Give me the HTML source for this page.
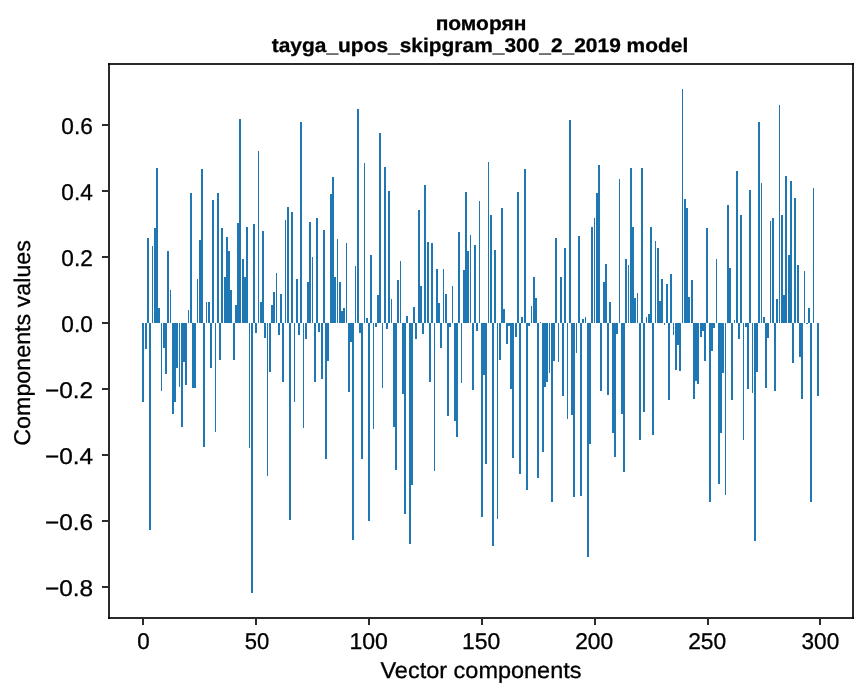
<!DOCTYPE html>
<html><head><meta charset="utf-8"><style>
html,body{margin:0;padding:0;background:#fff;}
svg{display:block;font-family:"Liberation Sans",sans-serif;}
text{text-rendering:geometricPrecision;}
svg{will-change:transform;}
</style></head><body>
<svg width="867" height="696" viewBox="0 0 867 696">
<rect x="0" y="0" width="867" height="696" fill="#fff"/>
<g fill="#1f77b4" shape-rendering="crispEdges"><rect x="142" y="323" width="2" height="79"/><rect x="145" y="323" width="2" height="26"/><rect x="147" y="238" width="2" height="85"/><rect x="149" y="323" width="2" height="207"/><rect x="152" y="246" width="1" height="77"/><rect x="154" y="228" width="2" height="95"/><rect x="156" y="168" width="2" height="155"/><rect x="158" y="308" width="2" height="15"/><rect x="161" y="323" width="1" height="68"/><rect x="163" y="323" width="2" height="25"/><rect x="165" y="323" width="2" height="51"/><rect x="167" y="251" width="2" height="72"/><rect x="170" y="290" width="1" height="33"/><rect x="172" y="323" width="2" height="91"/><rect x="174" y="323" width="2" height="79"/><rect x="176" y="323" width="2" height="45"/><rect x="179" y="323" width="1" height="64"/><rect x="181" y="323" width="2" height="104"/><rect x="183" y="323" width="2" height="39"/><rect x="185" y="323" width="2" height="62"/><rect x="188" y="310" width="1" height="13"/><rect x="190" y="193" width="2" height="130"/><rect x="192" y="323" width="2" height="65"/><rect x="194" y="323" width="2" height="65"/><rect x="197" y="279" width="1" height="44"/><rect x="199" y="240" width="2" height="83"/><rect x="201" y="169" width="2" height="154"/><rect x="203" y="323" width="2" height="124"/><rect x="206" y="302" width="1" height="21"/><rect x="208" y="302" width="2" height="21"/><rect x="210" y="323" width="2" height="45"/><rect x="212" y="200" width="2" height="123"/><rect x="215" y="323" width="1" height="109"/><rect x="217" y="193" width="2" height="130"/><rect x="219" y="323" width="2" height="37"/><rect x="221" y="228" width="2" height="95"/><rect x="224" y="277" width="2" height="46"/><rect x="226" y="237" width="2" height="86"/><rect x="228" y="251" width="2" height="72"/><rect x="230" y="290" width="2" height="33"/><rect x="233" y="323" width="2" height="37"/><rect x="235" y="305" width="2" height="18"/><rect x="237" y="223" width="2" height="100"/><rect x="239" y="119" width="2" height="204"/><rect x="242" y="259" width="2" height="64"/><rect x="244" y="277" width="2" height="46"/><rect x="246" y="227" width="2" height="96"/><rect x="249" y="323" width="1" height="125"/><rect x="251" y="323" width="2" height="270"/><rect x="253" y="224" width="2" height="99"/><rect x="255" y="323" width="2" height="10"/><rect x="258" y="151" width="1" height="172"/><rect x="260" y="302" width="2" height="21"/><rect x="262" y="231" width="2" height="92"/><rect x="264" y="323" width="2" height="15"/><rect x="267" y="323" width="1" height="153"/><rect x="269" y="323" width="2" height="49"/><rect x="271" y="305" width="2" height="18"/><rect x="273" y="292" width="2" height="31"/><rect x="276" y="273" width="1" height="50"/><rect x="278" y="323" width="2" height="12"/><rect x="280" y="294" width="2" height="29"/><rect x="282" y="323" width="2" height="59"/><rect x="285" y="220" width="1" height="103"/><rect x="287" y="207" width="2" height="116"/><rect x="289" y="323" width="2" height="197"/><rect x="291" y="212" width="2" height="111"/><rect x="294" y="323" width="1" height="79"/><rect x="296" y="279" width="2" height="44"/><rect x="298" y="323" width="2" height="12"/><rect x="300" y="122" width="2" height="201"/><rect x="303" y="323" width="1" height="105"/><rect x="305" y="323" width="2" height="16"/><rect x="307" y="282" width="2" height="41"/><rect x="309" y="222" width="2" height="101"/><rect x="312" y="257" width="1" height="66"/><rect x="314" y="323" width="2" height="59"/><rect x="316" y="218" width="2" height="105"/><rect x="318" y="323" width="2" height="9"/><rect x="321" y="323" width="2" height="56"/><rect x="323" y="230" width="2" height="93"/><rect x="325" y="323" width="2" height="136"/><rect x="327" y="323" width="2" height="38"/><rect x="330" y="194" width="2" height="129"/><rect x="332" y="177" width="2" height="146"/><rect x="334" y="277" width="2" height="46"/><rect x="337" y="239" width="1" height="84"/><rect x="339" y="282" width="2" height="41"/><rect x="341" y="311" width="2" height="12"/><rect x="343" y="308" width="2" height="15"/><rect x="346" y="243" width="1" height="80"/><rect x="348" y="323" width="2" height="69"/><rect x="350" y="323" width="2" height="19"/><rect x="352" y="323" width="2" height="217"/><rect x="355" y="266" width="1" height="57"/><rect x="357" y="109" width="2" height="214"/><rect x="359" y="323" width="2" height="10"/><rect x="361" y="323" width="2" height="136"/><rect x="364" y="163" width="1" height="160"/><rect x="366" y="318" width="2" height="5"/><rect x="368" y="323" width="2" height="198"/><rect x="370" y="255" width="2" height="68"/><rect x="373" y="323" width="1" height="106"/><rect x="375" y="323" width="2" height="4"/><rect x="377" y="295" width="2" height="28"/><rect x="379" y="133" width="2" height="190"/><rect x="382" y="323" width="1" height="65"/><rect x="384" y="167" width="2" height="156"/><rect x="386" y="323" width="2" height="6"/><rect x="388" y="191" width="2" height="132"/><rect x="391" y="299" width="1" height="24"/><rect x="393" y="323" width="2" height="104"/><rect x="395" y="323" width="2" height="147"/><rect x="397" y="280" width="2" height="43"/><rect x="400" y="261" width="1" height="62"/><rect x="402" y="323" width="2" height="71"/><rect x="404" y="323" width="2" height="191"/><rect x="406" y="316" width="2" height="7"/><rect x="409" y="323" width="2" height="221"/><rect x="411" y="323" width="2" height="162"/><rect x="413" y="307" width="2" height="16"/><rect x="415" y="323" width="2" height="16"/><rect x="418" y="210" width="2" height="113"/><rect x="420" y="286" width="2" height="37"/><rect x="422" y="323" width="2" height="11"/><rect x="424" y="185" width="2" height="138"/><rect x="427" y="242" width="2" height="81"/><rect x="429" y="323" width="2" height="59"/><rect x="431" y="243" width="2" height="80"/><rect x="434" y="323" width="1" height="148"/><rect x="436" y="269" width="2" height="54"/><rect x="438" y="303" width="2" height="20"/><rect x="440" y="323" width="2" height="25"/><rect x="443" y="269" width="1" height="54"/><rect x="445" y="294" width="2" height="29"/><rect x="447" y="323" width="2" height="93"/><rect x="449" y="323" width="2" height="4"/><rect x="452" y="286" width="1" height="37"/><rect x="454" y="323" width="2" height="98"/><rect x="456" y="323" width="2" height="114"/><rect x="458" y="232" width="2" height="91"/><rect x="461" y="323" width="1" height="60"/><rect x="463" y="270" width="2" height="53"/><rect x="465" y="192" width="2" height="131"/><rect x="467" y="251" width="2" height="72"/><rect x="470" y="235" width="1" height="88"/><rect x="472" y="323" width="2" height="67"/><rect x="474" y="245" width="2" height="78"/><rect x="476" y="323" width="2" height="8"/><rect x="479" y="201" width="1" height="122"/><rect x="481" y="323" width="2" height="194"/><rect x="483" y="323" width="2" height="52"/><rect x="485" y="323" width="2" height="141"/><rect x="488" y="162" width="1" height="161"/><rect x="490" y="215" width="2" height="108"/><rect x="492" y="323" width="2" height="223"/><rect x="494" y="250" width="2" height="73"/><rect x="497" y="323" width="1" height="196"/><rect x="499" y="323" width="2" height="37"/><rect x="501" y="208" width="2" height="115"/><rect x="503" y="309" width="2" height="14"/><rect x="506" y="323" width="2" height="21"/><rect x="508" y="323" width="2" height="3"/><rect x="510" y="323" width="2" height="66"/><rect x="512" y="323" width="2" height="135"/><rect x="515" y="323" width="2" height="14"/><rect x="517" y="192" width="2" height="131"/><rect x="519" y="323" width="2" height="151"/><rect x="521" y="317" width="2" height="6"/><rect x="524" y="169" width="2" height="154"/><rect x="526" y="323" width="2" height="167"/><rect x="528" y="323" width="2" height="3"/><rect x="531" y="306" width="1" height="17"/><rect x="533" y="277" width="2" height="46"/><rect x="535" y="298" width="2" height="25"/><rect x="537" y="323" width="2" height="155"/><rect x="540" y="322" width="1" height="1"/><rect x="542" y="323" width="2" height="129"/><rect x="544" y="323" width="2" height="64"/><rect x="546" y="323" width="2" height="59"/><rect x="549" y="323" width="1" height="50"/><rect x="551" y="323" width="2" height="179"/><rect x="553" y="323" width="2" height="38"/><rect x="555" y="238" width="2" height="85"/><rect x="558" y="323" width="1" height="39"/><rect x="560" y="277" width="2" height="46"/><rect x="562" y="323" width="2" height="73"/><rect x="564" y="248" width="2" height="75"/><rect x="567" y="323" width="1" height="96"/><rect x="569" y="120" width="2" height="203"/><rect x="571" y="323" width="2" height="92"/><rect x="573" y="323" width="2" height="174"/><rect x="576" y="323" width="1" height="30"/><rect x="578" y="236" width="2" height="87"/><rect x="580" y="323" width="2" height="173"/><rect x="582" y="319" width="2" height="4"/><rect x="585" y="317" width="1" height="6"/><rect x="587" y="323" width="2" height="234"/><rect x="589" y="323" width="2" height="121"/><rect x="591" y="227" width="2" height="96"/><rect x="594" y="218" width="1" height="105"/><rect x="596" y="193" width="2" height="130"/><rect x="598" y="165" width="2" height="158"/><rect x="600" y="323" width="2" height="68"/><rect x="603" y="282" width="2" height="41"/><rect x="605" y="264" width="2" height="59"/><rect x="607" y="323" width="2" height="72"/><rect x="609" y="302" width="2" height="21"/><rect x="612" y="323" width="2" height="110"/><rect x="614" y="323" width="2" height="134"/><rect x="616" y="323" width="2" height="11"/><rect x="619" y="179" width="1" height="144"/><rect x="621" y="323" width="2" height="91"/><rect x="623" y="323" width="2" height="149"/><rect x="625" y="259" width="2" height="64"/><rect x="628" y="265" width="1" height="58"/><rect x="630" y="168" width="2" height="155"/><rect x="632" y="227" width="2" height="96"/><rect x="634" y="298" width="2" height="25"/><rect x="637" y="293" width="1" height="30"/><rect x="639" y="323" width="2" height="117"/><rect x="641" y="168" width="2" height="155"/><rect x="643" y="323" width="2" height="89"/><rect x="646" y="317" width="1" height="6"/><rect x="648" y="314" width="2" height="9"/><rect x="650" y="227" width="2" height="96"/><rect x="652" y="323" width="2" height="112"/><rect x="655" y="241" width="1" height="82"/><rect x="657" y="248" width="2" height="75"/><rect x="659" y="301" width="2" height="22"/><rect x="661" y="279" width="2" height="44"/><rect x="664" y="323" width="1" height="2"/><rect x="666" y="284" width="2" height="39"/><rect x="668" y="323" width="2" height="77"/><rect x="670" y="274" width="2" height="49"/><rect x="673" y="323" width="1" height="12"/><rect x="675" y="323" width="2" height="47"/><rect x="677" y="323" width="2" height="22"/><rect x="679" y="323" width="2" height="48"/><rect x="682" y="89" width="1" height="234"/><rect x="684" y="199" width="2" height="124"/><rect x="686" y="208" width="2" height="115"/><rect x="688" y="297" width="2" height="26"/><rect x="691" y="280" width="2" height="43"/><rect x="693" y="323" width="2" height="76"/><rect x="695" y="323" width="2" height="58"/><rect x="697" y="323" width="2" height="61"/><rect x="700" y="323" width="2" height="14"/><rect x="702" y="323" width="2" height="8"/><rect x="704" y="323" width="2" height="38"/><rect x="706" y="228" width="2" height="95"/><rect x="709" y="323" width="2" height="179"/><rect x="711" y="323" width="2" height="28"/><rect x="713" y="323" width="2" height="5"/><rect x="716" y="259" width="1" height="64"/><rect x="718" y="323" width="2" height="161"/><rect x="720" y="323" width="2" height="110"/><rect x="722" y="323" width="2" height="50"/><rect x="725" y="323" width="1" height="172"/><rect x="727" y="205" width="2" height="118"/><rect x="729" y="268" width="2" height="55"/><rect x="731" y="323" width="2" height="77"/><rect x="734" y="320" width="1" height="3"/><rect x="736" y="171" width="2" height="152"/><rect x="738" y="323" width="2" height="16"/><rect x="740" y="215" width="2" height="108"/><rect x="743" y="323" width="1" height="117"/><rect x="745" y="323" width="2" height="4"/><rect x="747" y="323" width="2" height="66"/><rect x="749" y="190" width="2" height="133"/><rect x="752" y="323" width="1" height="70"/><rect x="754" y="323" width="2" height="218"/><rect x="756" y="323" width="2" height="49"/><rect x="758" y="122" width="2" height="201"/><rect x="761" y="183" width="1" height="140"/><rect x="763" y="317" width="2" height="6"/><rect x="765" y="323" width="2" height="65"/><rect x="767" y="323" width="2" height="15"/><rect x="770" y="221" width="1" height="102"/><rect x="772" y="218" width="2" height="105"/><rect x="774" y="323" width="2" height="68"/><rect x="776" y="299" width="2" height="24"/><rect x="779" y="105" width="1" height="218"/><rect x="781" y="215" width="2" height="108"/><rect x="783" y="295" width="2" height="28"/><rect x="785" y="176" width="2" height="147"/><rect x="788" y="255" width="2" height="68"/><rect x="790" y="181" width="2" height="142"/><rect x="792" y="323" width="2" height="40"/><rect x="794" y="198" width="2" height="125"/><rect x="797" y="265" width="2" height="58"/><rect x="799" y="323" width="2" height="34"/><rect x="801" y="323" width="2" height="76"/><rect x="804" y="271" width="1" height="52"/><rect x="806" y="323" width="2" height="1"/><rect x="808" y="308" width="2" height="15"/><rect x="810" y="323" width="2" height="179"/><rect x="813" y="188" width="1" height="135"/><rect x="817" y="323" width="2" height="73"/></g>
<g fill="#2b2b2b" shape-rendering="crispEdges">
<rect x="108" y="63" width="746" height="2"/><rect x="108" y="617" width="746" height="2"/>
<rect x="108" y="63" width="2" height="556"/><rect x="852" y="63" width="2" height="556"/>
<rect x="102" y="124" width="7" height="2"/><rect x="102" y="190" width="7" height="2"/><rect x="102" y="256" width="7" height="2"/><rect x="102" y="322" width="7" height="2"/><rect x="102" y="388" width="7" height="2"/><rect x="102" y="454" width="7" height="2"/><rect x="102" y="520" width="7" height="2"/><rect x="102" y="586" width="7" height="2"/><rect x="142" y="618" width="2" height="7"/><rect x="255" y="618" width="2" height="7"/><rect x="368" y="618" width="2" height="7"/><rect x="481" y="618" width="2" height="7"/><rect x="594" y="618" width="2" height="7"/><rect x="707" y="618" width="2" height="7"/><rect x="819" y="618" width="2" height="7"/></g>
<g fill="#080808" shape-rendering="crispEdges"><rect x="108" y="63" width="2" height="2"/><rect x="852" y="63" width="2" height="2"/><rect x="108" y="617" width="2" height="2"/><rect x="852" y="617" width="2" height="2"/></g>
<g fill="#000" font-size="22.8" stroke="#000" stroke-width="0.3"><text x="92.8" y="133.80" text-anchor="end" textLength="31.5" lengthAdjust="spacingAndGlyphs">0.6</text><text x="92.8" y="199.80" text-anchor="end" textLength="31.5" lengthAdjust="spacingAndGlyphs">0.4</text><text x="92.8" y="265.80" text-anchor="end" textLength="31.5" lengthAdjust="spacingAndGlyphs">0.2</text><text x="92.8" y="331.80" text-anchor="end" textLength="31.5" lengthAdjust="spacingAndGlyphs">0.0</text><text x="93.15" y="397.80" text-anchor="end" textLength="48.2" lengthAdjust="spacingAndGlyphs">−0.2</text><text x="93.15" y="463.80" text-anchor="end" textLength="48.2" lengthAdjust="spacingAndGlyphs">−0.4</text><text x="93.15" y="529.80" text-anchor="end" textLength="48.2" lengthAdjust="spacingAndGlyphs">−0.6</text><text x="93.15" y="595.80" text-anchor="end" textLength="48.2" lengthAdjust="spacingAndGlyphs">−0.8</text><text x="143.58" y="648.8" text-anchor="middle" textLength="12.45" lengthAdjust="spacingAndGlyphs">0</text><text x="256.95" y="648.8" text-anchor="middle" textLength="24.5" lengthAdjust="spacingAndGlyphs">50</text><text x="368.70" y="648.8" text-anchor="middle" textLength="38.5" lengthAdjust="spacingAndGlyphs">100</text><text x="481.19" y="648.8" text-anchor="middle" textLength="38.3" lengthAdjust="spacingAndGlyphs">150</text><text x="594.20" y="648.8" text-anchor="middle" textLength="38.1" lengthAdjust="spacingAndGlyphs">200</text><text x="707.20" y="648.8" text-anchor="middle" textLength="38.1" lengthAdjust="spacingAndGlyphs">250</text><text x="820.40" y="648.8" text-anchor="middle" textLength="37.7" lengthAdjust="spacingAndGlyphs">300</text>
<text x="481" y="29.7" text-anchor="middle" font-weight="bold" font-size="19.8" textLength="90.7" lengthAdjust="spacingAndGlyphs">поморян</text>
<text x="480" y="51.7" text-anchor="middle" font-weight="bold" font-size="19.8" textLength="416.5" lengthAdjust="spacingAndGlyphs">tayga_upos_skipgram_300_2_2019 model</text>
<text x="481" y="678" text-anchor="middle" font-size="22.8" textLength="201" lengthAdjust="spacingAndGlyphs">Vector components</text>
<text transform="translate(30,342.9) rotate(-90)" text-anchor="middle" font-size="22.8" textLength="205.6" lengthAdjust="spacingAndGlyphs">Components values</text>
</g>
</svg>
</body></html>
